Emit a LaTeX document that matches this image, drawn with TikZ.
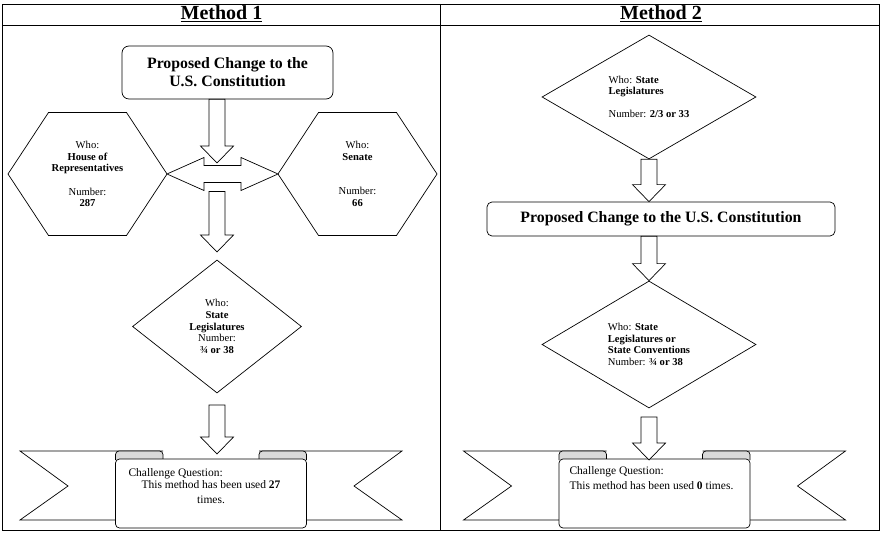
\documentclass[tikz,border=0pt]{standalone}
\usepackage{fontspec}
\setmainfont{Liberation Serif}
\usetikzlibrary{shapes.geometric,calc}

\tikzset{
  shapeline/.style={draw=black, line width=0.7pt},
  rollfill/.style={draw=black, line width=0.7pt, fill=gray!30},
  gridline/.style={draw=black, line width=0.8pt},
  headtxt/.style={font=\fontsize{20}{22}\selectfont\bfseries},
  propbox/.style={shapeline, fill=white, rounded corners=7pt, align=center, inner sep=0pt,
    font=\fontsize{15.8}{18}\selectfont\bfseries},
  votebox/.style={shapeline, diamond, inner sep=0pt},
  smalltxt/.style={font=\fontsize{10.6}{11.6}\selectfont},
  bannertxt/.style={font=\fontsize{11.5}{14.5}\selectfont},
}

% hollow block arrow pointing down: #1 top of the shaft, #2 the tip
\newcommand{\blockdown}[2]{%
  \draw[shapeline, fill=white] ($(#1)+(-8,0)$) -- ($(#2)+(-8,-17)$) -- ($(#2)+(-16.5,-17)$)
    -- (#2) -- ($(#2)+(16.5,-17)$) -- ($(#2)+(8,-17)$) -- ($(#1)+(8,0)$) -- cycle;}

% hexagon round the text node #1, corners #1W and #1E
\newcommand{\hexround}[1]{%
  \draw[shapeline] ($(#1)+(-79.5,0)$) coordinate (#1W) -- ($(#1)+(-39,-61.5)$)
    -- ($(#1)+(39,-61.5)$) -- ($(#1)+(79.5,0)$) coordinate (#1E)
    -- ($(#1)+(39,61.5)$) -- ($(#1)+(-39,61.5)$) -- cycle;}

% ribbon, #1 = top centre of the tails
\newcommand{\banner}[1]{%
  \begin{scope}[shift={(#1)}]
    \draw[shapeline, fill=white] (-48,0) -- (-191,0) -- (-143,35) -- (-191,69) -- (-95.5,69);
    \draw[shapeline, fill=white] (48,0) -- (191,0) -- (143,35) -- (191,69) -- (95.5,69);
    \draw[rollfill, rounded corners=3.5pt] (-48,9) -- (-48,0) -- (-95.5,0) -- (-95.5,9);
    \draw[rollfill, rounded corners=3.5pt] (48,9) -- (48,0) -- (95.5,0) -- (95.5,9);
    \draw[shapeline, fill=white, rounded corners=4pt] (-95.5,8) -- (-95.5,77) -- (95.5,77) -- (95.5,8) -- cycle;
  \end{scope}}

\begin{document}
\begin{tikzpicture}[x=1pt, y=-1pt]
\useasboundingbox (0,0) rectangle (881,534);

% table
\draw[gridline] (2,4) rectangle (879,530);
\draw[gridline] (440,4) -- (440,530);
\draw[gridline] (2,25) -- (879,25);
\node[headtxt, anchor=base] (head1) at (221.5,20) {\underline{Method 1}};
\node[headtxt, anchor=base] (head2) at (661,20) {\underline{Method 2}};

% Method 1
\node[propbox, minimum width=211pt, minimum height=53pt] (prop1) at (227.5,72.5)
  {Proposed Change to the\\U.S. Constitution};
\node[smalltxt, align=center] (house) at (87.5,174)
  {Who:\\\textbf{House of}\\\textbf{Representatives}\\[11.6pt]Number:\\\textbf{287}};
\hexround{house}
\node[smalltxt, align=center] (senate) at (357.5,174)
  {Who:\\\textbf{Senate}\\[23pt]Number:\\\textbf{66}};
\hexround{senate}
\node[votebox, smalltxt, align=center, minimum width=169pt, minimum height=133pt] (dia1) at (217,326.5)
  {Who:\\\textbf{State}\\\textbf{Legislatures}\\Number:\\\textbf{¾ or 38}};

\draw[shapeline, fill=white] (houseE) -- ++(37,-16.5) -- ++(0,8) -- ($(senateW)+(-37,-8.5)$) -- ++(0,-8)
  -- (senateW) -- ++(-37,16.5) -- ++(0,-8) -- ($(houseE)+(37,8.5)$) -- ++(0,8) -- cycle;

\coordinate (a1top) at (prop1.south -| dia1.north);
\coordinate (a1tip) at (217,163);
\coordinate (a2top) at (217,191.5);
\coordinate (a2tip) at (217,252);
\coordinate (a3top) at (217,405);
\coordinate (a3tip) at (217,454);
\blockdown{a1top}{a1tip}
\blockdown{a2top}{a2tip}

\banner{211,451}
\blockdown{a3top}{a3tip}
\node[bannertxt, anchor=base west] (ask1) at (125,476) {Challenge Question:};
\node[bannertxt, align=center, anchor=north] (used1) at (211,477)
  {This method has been used \textbf{27}\\times.};

% Method 2
\node[votebox, smalltxt, align=left, minimum width=214pt, minimum height=124pt] (dia2a) at (649,97)
  {Who: \textbf{State}\\\textbf{Legislatures}\\[11.6pt]Number: \textbf{2/3 or 33}};
\node[propbox, rounded corners=5pt, minimum width=348pt, minimum height=34pt] (prop2) at (661,219)
  {Proposed Change to the U.S. Constitution};
\node[votebox, smalltxt, align=left, minimum width=214pt, minimum height=127pt] (dia2b) at (649,344.5)
  {Who: \textbf{State}\\\textbf{Legislatures or}\\\textbf{State Conventions}\\Number: \textbf{¾ or 38}};

\coordinate (b1tip) at (prop2.north -| dia2a.south);
\coordinate (b2top) at (prop2.south -| dia2b.north);
\coordinate (b3top) at (649,417);
\coordinate (b3tip) at (649,460);
\blockdown{dia2a.south}{b1tip}
\blockdown{b2top}{dia2b.north}

\banner{654.5,451}
\blockdown{b3top}{b3tip}
\node[bannertxt, align=left, anchor=north west] (ask2) at (566,463)
  {Challenge Question:\\This method has been used \textbf{0} times.};
\end{tikzpicture}
\end{document}
